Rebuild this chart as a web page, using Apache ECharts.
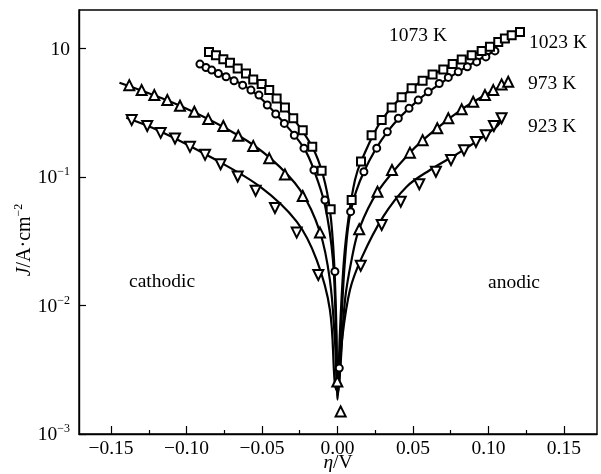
<!DOCTYPE html>
<html><head><meta charset="utf-8">
<script src="https://cdn.jsdelivr.net/npm/echarts@6/dist/echarts.min.js"></script>
<style>html,body{margin:0;padding:0;background:#fff}#c{width:601px;height:474px}</style>
</head><body><div id="c"></div>
<script>
// ---- tick values ----
const xMajorTicks = [-0.15, -0.10, -0.05, 0, 0.05, 0.10, 0.15];
const xMinorTicks = [-0.125, -0.075, -0.025, 0.025, 0.075, 0.125];
const yTicks = [0.001, 0.01, 0.1, 1];

// ---- series labels ----
const seriesNames = ['923 K', '973 K', '1023 K', '1073 K'];

// ---- fitted curves [eta (V), J (A/cm2)] ----
const curve923 = [[-0.1399,0.290],[-0.1175,0.228],[-0.0844,0.144],[-0.0513,0.0842],[-0.0270,0.0450],[-0.0138,0.0227],[-0.0050,0.00926],[-0.0017,0.00242],[0.0000,0.00213],[0.0030,0.00541],[0.0083,0.01325],[0.0160,0.0235],[0.0303,0.0492],[0.0458,0.0842],[0.0613,0.1136],[0.0833,0.162],[0.1054,0.247],[0.1096,0.293]];
const curve973 = [[-0.1444,0.542],[-0.1043,0.359],[-0.0659,0.212],[-0.0447,0.141],[-0.0248,0.0794],[-0.0116,0.0374],[-0.0050,0.0158],[-0.0017,0.00541],[0.0000,0.00229],[0.0013,0.00264],[0.0050,0.01107],[0.0096,0.0235],[0.0144,0.0395],[0.0265,0.0766],[0.0480,0.155],[0.0661,0.241],[0.0823,0.337],[0.0977,0.435],[0.1142,0.559]];
const curve1023 = [[-0.0930,0.778],[-0.0573,0.476],[-0.0352,0.262],[-0.0222,0.168],[-0.0156,0.1136],[-0.0083,0.0607],[-0.0030,0.0227],[-0.0010,0.00647],[0.0003,0.00202],[0.0023,0.00647],[0.0050,0.0227],[0.0087,0.0538],[0.0175,0.110],[0.0330,0.225],[0.0535,0.398],[0.0800,0.660],[0.1056,0.982]];
const curve1073 = [[-0.0864,0.973],[-0.0661,0.702],[-0.0452,0.476],[-0.0293,0.287],[-0.0167,0.172],[-0.0096,0.1038],[-0.0050,0.0555],[-0.0023,0.0227],[-0.0007,0.00647],[0.0000,0.00185],[0.0017,0.00647],[0.0043,0.0227],[0.0076,0.0507],[0.0116,0.0949],[0.0156,0.132],[0.0293,0.278],[0.0491,0.491],[0.0763,0.758],[0.1010,1.033],[0.1215,1.368]];

// ---- measured points ----
const markers923 = [[-0.1363,0.278],[-0.1260,0.250],[-0.1171,0.221],[-0.1076,0.200],[-0.0977,0.172],[-0.0877,0.149],[-0.0774,0.126],[-0.0661,0.101],[-0.0542,0.0784],[-0.0414,0.0575],[-0.0270,0.0370],[-0.0127,0.0173],[0.0154,0.0204],[0.0293,0.0424],[0.0419,0.0644],[0.0542,0.0879],[0.0652,0.110],[0.0752,0.136],[0.0838,0.162],[0.0917,0.188],[0.0983,0.212],[0.1036,0.250],[0.1087,0.287]];
const markers973 = [[-0.1379,0.520],[-0.1297,0.476],[-0.1213,0.435],[-0.1127,0.398],[-0.1043,0.359],[-0.0948,0.323],[-0.0856,0.283],[-0.0756,0.250],[-0.0657,0.210],[-0.0558,0.175],[-0.0452,0.140],[-0.0348,0.105],[-0.0230,0.0713],[-0.0116,0.0370],[-0.0001,0.00256],[0.0021,0.00150],[0.0144,0.0393],[0.0265,0.0770],[0.0361,0.1136],[0.0480,0.155],[0.0564,0.194],[0.0661,0.240],[0.0734,0.287],[0.0823,0.337],[0.0899,0.386],[0.0977,0.435],[0.1032,0.476],[0.1087,0.527],[0.1131,0.552]];
const markers1023 = [[-0.0911,0.758],[-0.0871,0.714],[-0.0833,0.681],[-0.0789,0.641],[-0.0738,0.604],[-0.0685,0.562],[-0.0628,0.520],[-0.0573,0.476],[-0.0520,0.435],[-0.0465,0.364],[-0.0409,0.310],[-0.0352,0.262],[-0.0286,0.212],[-0.0222,0.168],[-0.0156,0.1136],[-0.0083,0.0664],[-0.0017,0.0184],[0.0012,0.00326],[0.0087,0.0538],[0.0175,0.110],[0.0260,0.168],[0.0330,0.225],[0.0403,0.287],[0.0474,0.343],[0.0535,0.398],[0.0601,0.461],[0.0674,0.536],[0.0734,0.597],[0.0800,0.660],[0.0860,0.722],[0.0922,0.789],[0.0983,0.863],[0.1043,0.961]];
const markers1073 = [[-0.0851,0.944],[-0.0805,0.890],[-0.0756,0.829],[-0.0712,0.776],[-0.0661,0.702],[-0.0606,0.641],[-0.0558,0.576],[-0.0502,0.530],[-0.0452,0.476],[-0.0403,0.410],[-0.0348,0.349],[-0.0293,0.287],[-0.0230,0.232],[-0.0167,0.172],[-0.0105,0.112],[-0.0045,0.0562],[0.0094,0.0664],[0.0156,0.132],[0.0226,0.212],[0.0293,0.278],[0.0359,0.349],[0.0425,0.418],[0.0491,0.491],[0.0564,0.562],[0.0630,0.630],[0.0701,0.689],[0.0763,0.758],[0.0823,0.824],[0.0889,0.890],[0.0955,0.961],[0.1010,1.033],[0.1065,1.129],[0.1109,1.200],[0.1154,1.273],[0.1209,1.351]];

const FONT = '"Liberation Serif", "Times New Roman", serif';
const FS = 19.5;
const chart = echarts.init(document.getElementById('c'), null, {renderer: 'canvas'});

function curve(name, data) {
  return {name: name, type: 'line', data: data, smooth: 0.35, showSymbol: false, symbol: 'none',
    lineStyle: {color: '#000', width: 2.2}, z: 2, silent: true, xAxisIndex: 0, yAxisIndex: 0};
}
function pts(name, data, symbol, size, rotate) {
  return {name: name, type: 'scatter', data: data, symbol: symbol, symbolSize: size, symbolRotate: rotate || 0,
    itemStyle: {color: '#fff', borderColor: '#000', borderWidth: 2, opacity: 1}, z: 3, silent: true,
    xAxisIndex: 0, yAxisIndex: 0};
}
function fmtX(v) { const s = Math.abs(v).toFixed(2); return v < -1e-9 ? '\u2212' + s : s; }

const option = {
  animation: false,
  backgroundColor: '#fff',
  grid: [
    {left: 79, right: 4, top: 10, bottom: 40, show: true, borderColor: '#000', borderWidth: 1.4, backgroundColor: 'transparent'},
    {left: 79, right: 4, top: 10, bottom: 40, show: false}
  ],
  xAxis: [
    {type: 'value', gridIndex: 0, min: -0.1712, max: 0.1719, position: 'bottom',
      axisLine: {show: true, onZero: false, lineStyle: {color: '#000', width: 1.4}},
      axisTick: {show: true, inside: true, length: 8, lineStyle: {color: '#000', width: 1.2}, customValues: xMajorTicks},
      axisLabel: {show: true, customValues: xMajorTicks, formatter: fmtX, color: '#000', fontFamily: FONT, fontSize: FS, margin: 5},
      splitLine: {show: false}},
    {type: 'value', gridIndex: 1, min: -0.1712, max: 0.1719, position: 'bottom',
      axisLine: {show: false, onZero: false},
      axisTick: {show: true, inside: true, length: 4, lineStyle: {color: '#000', width: 1.2}, customValues: xMinorTicks},
      axisLabel: {show: false}, splitLine: {show: false}}
  ],
  yAxis: [
    {type: 'log', logBase: 10, gridIndex: 0, min: 0.001, max: 2.0,
      axisLine: {show: true, onZero: false, lineStyle: {color: '#000', width: 1.4}},
      axisTick: {show: true, inside: true, length: 7, lineStyle: {color: '#000', width: 1.2}, customValues: yTicks},
      axisLabel: {show: true, customValues: yTicks, margin: 9, color: '#000',
        formatter: function (v) { const e = Math.round(Math.log10(v)); return e === 0 ? '{b|10}' : '{b|10}{s|\u2212' + (-e) + '}'; },
        rich: {b: {fontFamily: FONT, fontSize: FS, color: '#000', verticalAlign: 'bottom', lineHeight: 22},
               s: {fontFamily: FONT, fontSize: 12, color: '#000', verticalAlign: 'top', lineHeight: 22}}},
      minorTick: {show: false}, splitLine: {show: false}},
    {type: 'value', gridIndex: 1, show: false, min: 0, max: 1}
  ],
  graphic: [
    {type: 'text', x: 389, y: 36, style: {text: '1073 K', font: FS + 'px ' + FONT, fill: '#000', textAlign: 'left', textVerticalAlign: 'middle', align: 'left', verticalAlign: 'middle'}},
    {type: 'text', x: 529, y: 43, style: {text: '1023 K', font: FS + 'px ' + FONT, fill: '#000', textAlign: 'left', textVerticalAlign: 'middle', align: 'left', verticalAlign: 'middle'}},
    {type: 'text', x: 528, y: 84, style: {text: '973 K', font: FS + 'px ' + FONT, fill: '#000', textAlign: 'left', textVerticalAlign: 'middle', align: 'left', verticalAlign: 'middle'}},
    {type: 'text', x: 528, y: 127, style: {text: '923 K', font: FS + 'px ' + FONT, fill: '#000', textAlign: 'left', textVerticalAlign: 'middle', align: 'left', verticalAlign: 'middle'}},
    {type: 'text', x: 129, y: 282, style: {text: 'cathodic', font: FS + 'px ' + FONT, fill: '#000', textAlign: 'left', textVerticalAlign: 'middle', align: 'left', verticalAlign: 'middle'}},
    {type: 'text', x: 488, y: 283, style: {text: 'anodic', font: FS + 'px ' + FONT, fill: '#000', textAlign: 'left', textVerticalAlign: 'middle', align: 'left', verticalAlign: 'middle'}},
    {type: 'text', x: 338, y: 463, style: {text: '{i|\u03b7}{n|/V}', textAlign: 'center', textVerticalAlign: 'middle', align: 'center', verticalAlign: 'middle',
      rich: {i: {fontFamily: FONT, fontSize: FS, fontStyle: 'italic', fill: '#000', color: '#000'}, n: {fontFamily: FONT, fontSize: FS, fill: '#000', color: '#000'}}}},
    {type: 'text', x: 24, y: 240, rotation: Math.PI / 2, style: {text: '{i|J}{n|/A\u00b7cm}{s|\u22122}', textAlign: 'center', textVerticalAlign: 'middle', align: 'center', verticalAlign: 'middle',
      rich: {i: {fontFamily: FONT, fontSize: 20, fontStyle: 'italic', color: '#000', verticalAlign: 'bottom', lineHeight: 22},
             n: {fontFamily: FONT, fontSize: 20, color: '#000', verticalAlign: 'bottom', lineHeight: 22},
             s: {fontFamily: FONT, fontSize: 12, color: '#000', verticalAlign: 'top', lineHeight: 22}}}}
  ],
  series: [
    curve(seriesNames[0], curve923),
    curve(seriesNames[1], curve973),
    curve(seriesNames[2], curve1023),
    curve(seriesNames[3], curve1073),
    pts(seriesNames[0], markers923, 'triangle', 10, 180),
    pts(seriesNames[1], markers973, 'triangle', 10, 0),
    pts(seriesNames[2], markers1023, 'circle', 7, 0),
    pts(seriesNames[3], markers1073, 'rect', 8, 0)
  ]
};
chart.setOption(option);
</script>
</body></html>
